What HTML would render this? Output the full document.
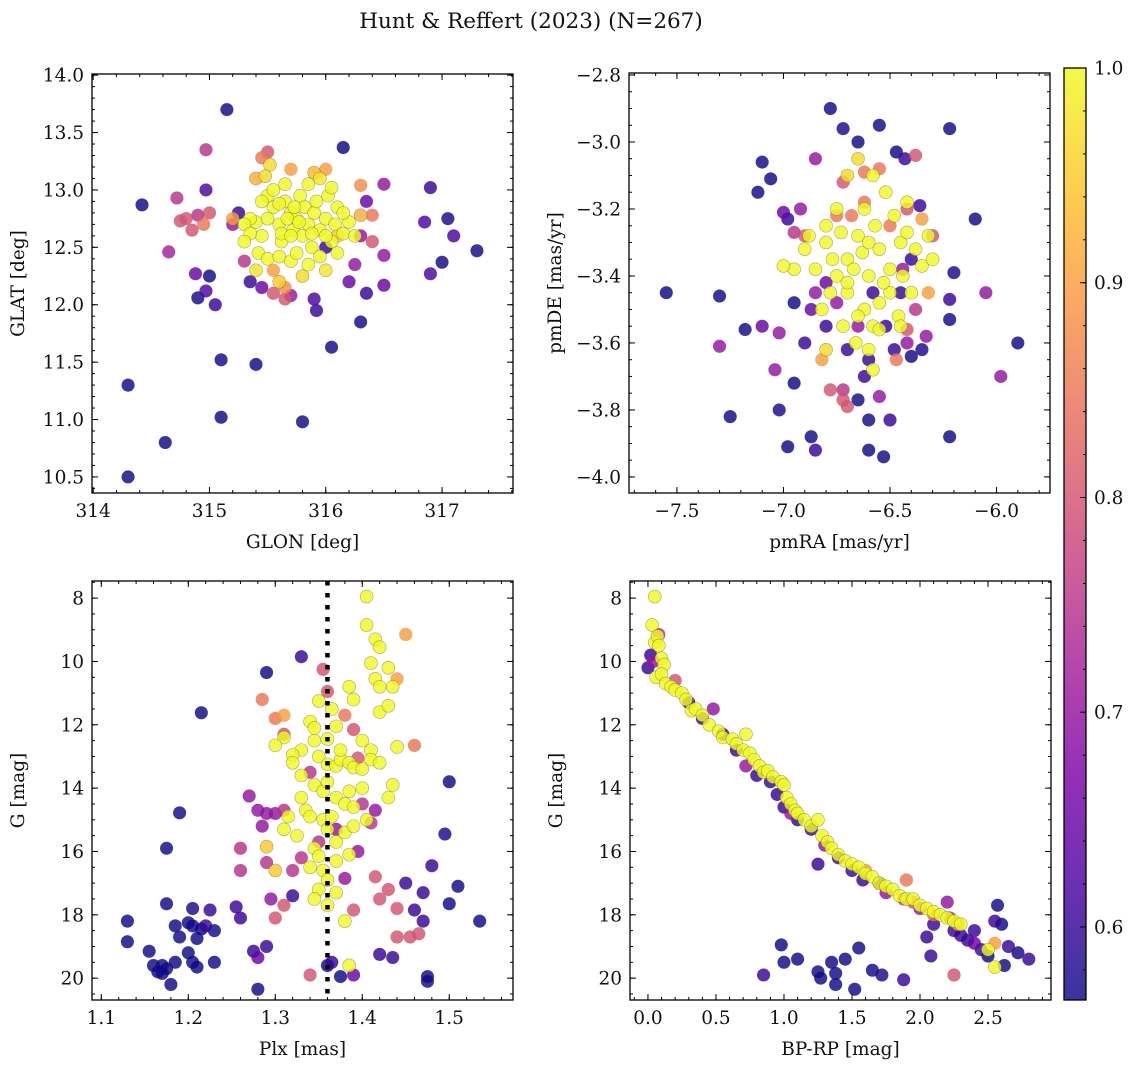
<!DOCTYPE html>
<html><head><meta charset="utf-8"><style>
body{margin:0;background:#fff}
svg text{font-family:"DejaVu Serif","Liberation Serif",serif;fill:#111}
</style></head><body>
<svg id="fig" width="1136" height="1067" xmlns="http://www.w3.org/2000/svg">
<defs><linearGradient id="plasma" x1="0" y1="1" x2="0" y2="0"></linearGradient></defs>
<text x="531" y="28" font-size="21.5" text-anchor="middle">Hunt &amp; Reffert (2023) (N=267)</text>
</svg>
<script>
// ---- data ----
const skyPoints = [
[314.3,10.5,0.55],[314.3,11.3,0.55],[314.62,10.8,0.55],[315.1,11.02,0.55],[315.8,10.98,0.55],[315.1,11.52,0.55],[315.4,11.48,0.55],[314.42,12.87,0.55],[315.15,13.7,0.55],[316.15,13.37,0.56],[316.05,11.63,0.57],[316.3,11.85,0.57],[316.9,13.02,0.6],[317.05,12.75,0.58],[317.3,12.47,0.56],[316.85,12.72,0.62],[317.1,12.6,0.62],[317.0,12.37,0.57],[316.9,12.27,0.62],[316.5,12.17,0.65],[316.5,12.43,0.7],[316.5,13.05,0.7],[316.35,12.1,0.6],[316.2,12.2,0.65],[314.88,12.27,0.65],[315.0,12.25,0.55],[314.9,12.06,0.57],[315.05,12.0,0.6],[314.97,12.12,0.62],[314.65,12.46,0.72],[314.72,12.93,0.75],[314.97,13.0,0.62],[315.9,12.05,0.62],[315.7,12.08,0.7],[315.92,11.95,0.6],[316.35,12.9,0.65],[316.3,12.6,0.7],[315.25,12.8,0.6],[315.35,12.2,0.6],[315.45,12.15,0.65],
[314.97,13.35,0.75],[314.75,12.73,0.8],[314.8,12.75,0.8],[314.9,12.78,0.75],[315.0,12.8,0.8],[315.5,13.33,0.8],[315.45,13.28,0.85],[316.0,13.18,0.9],[315.7,13.18,0.9],[316.4,12.78,0.85],[316.3,13.04,0.88],[316.4,12.55,0.8],[315.3,12.38,0.75],[315.55,12.1,0.8],[315.65,12.05,0.8],[316.0,12.5,0.6],[314.85,12.65,0.8],[314.95,12.7,0.85],[316.25,12.35,0.7],[315.2,12.7,0.7],
[315.4,12.72,1],[315.45,12.6,1],[315.5,12.75,1],[315.55,12.85,1],[315.6,12.7,1],[315.62,12.55,1],[315.65,12.9,1],[315.7,12.8,1],[315.72,12.65,1],[315.75,12.75,1],[315.78,12.95,1],[315.8,12.6,1],[315.82,12.85,1],[315.85,12.7,1],[315.88,12.5,1],[315.9,12.8,1],[315.92,12.9,1],[315.95,12.65,1],[316.0,12.75,1],[316.02,12.95,1],[316.05,12.55,1],[316.08,12.7,1],[316.1,12.85,1],[315.5,12.95,1],[315.55,13.0,1],[315.65,13.05,1],[315.85,13.05,1],[315.95,13.1,0.98],[316.05,13.02,1],[315.52,13.22,0.97],[315.48,13.12,0.97],[315.35,12.75,1],[315.3,12.7,1],[315.35,12.62,1],[315.42,12.45,1],[315.5,12.4,1],[315.6,12.42,1],[315.7,12.38,1],[315.75,12.45,1],[315.85,12.35,1],[315.95,12.42,1],[316.0,12.3,0.98],[316.1,12.45,1],[316.15,12.62,1],[316.2,12.72,1],[316.15,12.8,1],[315.4,12.3,0.98],[315.6,12.2,0.95],[315.8,12.25,0.97],[315.67,12.75,1],[315.77,12.72,1],[315.73,12.85,1],[315.62,12.62,1],[315.88,12.62,1],[315.6,12.88,1],[315.45,12.9,1],[316.25,12.6,1],[316.0,12.6,1],[315.3,12.55,1],[315.7,12.6,1],
[315.4,13.1,0.92],[316.3,12.78,0.92],[315.9,13.15,0.93],[315.2,12.75,0.9],[315.65,12.15,0.88],[315.55,12.3,0.9],[316.1,12.6,0.95]
];
const pmPoints = [
[-7.55,-3.45,0.55],[-7.3,-3.46,0.55],[-7.3,-3.61,0.7],[-7.25,-3.82,0.55],[-7.18,-3.56,0.57],[-7.1,-3.06,0.55],[-7.12,-3.15,0.55],[-7.06,-3.11,0.55],[-7.0,-3.21,0.65],[-6.98,-3.23,0.6],[-6.98,-3.91,0.55],[-6.87,-3.88,0.55],[-6.85,-3.92,0.6],[-6.95,-3.72,0.55],[-7.02,-3.8,0.58],[-6.78,-2.9,0.55],[-6.72,-2.96,0.58],[-6.65,-3.0,0.55],[-6.55,-2.95,0.55],[-6.47,-3.03,0.55],[-6.43,-3.05,0.6],[-6.38,-3.04,0.8],[-6.22,-2.96,0.57],[-6.1,-3.23,0.56],[-6.2,-3.39,0.58],[-6.22,-3.47,0.6],[-6.05,-3.45,0.7],[-5.98,-3.7,0.7],[-5.9,-3.6,0.56],[-6.22,-3.53,0.57],[-6.22,-3.88,0.56],[-6.6,-3.92,0.56],[-6.53,-3.94,0.56],[-6.6,-3.83,0.56],[-6.5,-3.83,0.6],[-6.55,-3.76,0.7],[-6.65,-3.77,0.57],[-6.78,-3.74,0.8],[-6.72,-3.74,0.75],[-6.7,-3.79,0.8],[-6.72,-3.77,0.8],[-7.04,-3.68,0.7],[-7.02,-3.57,0.7],[-7.1,-3.55,0.65],[-6.82,-3.65,0.9],[-6.95,-3.48,0.55],[-6.4,-3.64,0.56],[-6.35,-3.62,0.58],[-6.33,-3.58,0.7],[-6.42,-3.56,0.8],[-6.47,-3.65,0.85],
[-6.9,-3.28,0.8],[-6.95,-3.27,0.75],[-6.85,-3.45,0.7],[-6.75,-3.22,0.85],[-6.62,-3.18,0.85],[-6.55,-3.08,0.85],[-6.62,-3.09,0.85],[-6.72,-3.12,0.8],[-6.68,-3.22,0.85],[-6.5,-3.25,0.85],[-6.42,-3.2,0.8],[-6.35,-3.23,0.9],[-6.32,-3.45,0.9],[-6.3,-3.28,0.8],[-6.38,-3.5,0.75],[-6.44,-3.38,0.7],[-6.65,-3.55,0.7],[-6.75,-3.48,0.7],[-6.8,-3.42,0.65],[-6.87,-3.5,0.65],[-6.92,-3.2,0.7],[-6.85,-3.05,0.7],[-6.58,-3.45,0.6],[-6.52,-3.55,0.6],[-6.48,-3.62,0.6],[-6.6,-3.65,0.6],[-6.45,-3.45,0.6],[-6.42,-3.6,0.7],[-6.4,-3.35,0.6],[-6.36,-3.19,0.6],[-6.7,-3.62,0.6],[-6.62,-3.7,0.6],[-6.9,-3.6,0.6],[-6.8,-3.55,0.6],
[-6.8,-3.3,1],[-6.75,-3.2,1],[-6.7,-3.35,1],[-6.65,-3.28,1],[-6.6,-3.4,1],[-6.55,-3.32,1],[-6.5,-3.38,1],[-6.45,-3.3,1],[-6.4,-3.45,1],[-6.35,-3.37,1],[-6.62,-3.5,1],[-6.58,-3.55,1],[-6.66,-3.6,1],[-6.7,-3.45,1],[-6.75,-3.4,1],[-6.85,-3.38,1],[-6.9,-3.32,1],[-6.95,-3.38,1],[-6.82,-3.5,1],[-6.72,-3.55,1],[-6.6,-3.62,1],[-6.55,-3.48,1],[-6.48,-3.22,1],[-6.42,-3.18,1],[-6.52,-3.15,1],[-6.62,-3.2,1],[-6.58,-3.1,1],[-6.65,-3.05,0.97],[-6.7,-3.1,0.97],[-6.8,-3.25,1],[-6.88,-3.28,1],[-6.5,-3.45,1],[-6.46,-3.52,1],[-6.38,-3.32,1],[-6.32,-3.28,1],[-6.3,-3.35,1],[-6.67,-3.38,1],[-6.63,-3.33,1],[-6.57,-3.25,1],[-6.53,-3.42,1],[-6.44,-3.4,1],[-6.73,-3.27,1],[-6.77,-3.35,1],[-6.6,-3.3,1],[-6.55,-3.56,1],[-6.65,-3.52,1],[-6.7,-3.42,1],[-6.78,-3.45,1],[-6.42,-3.27,1],[-7.0,-3.37,1],[-6.8,-3.62,0.97],[-6.45,-3.55,1],[-6.58,-3.68,1]
];
const plxPoints = [
[1.13,18.2,0.55],[1.13,18.85,0.55],[1.155,19.15,0.55],[1.16,19.6,0.55],[1.165,19.8,0.55],[1.17,19.6,0.55],[1.17,19.85,0.55],[1.175,19.7,0.55],[1.18,20.2,0.55],[1.185,19.5,0.55],[1.175,17.65,0.55],[1.185,18.35,0.56],[1.19,18.7,0.57],[1.2,18.25,0.55],[1.205,18.35,0.55],[1.205,17.8,0.58],[1.21,18.75,0.55],[1.215,18.45,0.55],[1.22,18.35,0.6],[1.225,17.85,0.6],[1.23,18.5,0.55],[1.23,19.5,0.55],[1.2,19.2,0.55],[1.205,19.5,0.55],[1.21,19.65,0.55],[1.175,15.9,0.55],[1.19,14.78,0.55],[1.215,11.62,0.55],[1.255,17.75,0.6],[1.26,18.1,0.6],[1.275,19.15,0.6],[1.28,19.35,0.65],[1.28,20.35,0.55],[1.29,19.0,0.6],[1.29,10.35,0.55],[1.32,17.4,0.6],[1.33,9.85,0.6],[1.36,19.6,0.55],[1.365,19.5,0.6],[1.375,19.95,0.55],[1.42,19.25,0.6],[1.46,17.85,0.6],[1.47,18.2,0.6],[1.475,19.95,0.55],[1.475,20.1,0.55],[1.5,17.65,0.55],[1.51,17.1,0.55],[1.535,18.2,0.55],[1.5,13.8,0.55],[1.495,15.45,0.58],[1.48,16.45,0.6],[1.47,17.3,0.6],[1.45,17.0,0.6],[1.435,19.35,0.6],[1.39,19.9,0.65],[1.34,19.9,0.8],
[1.27,14.25,0.7],[1.28,14.7,0.7],[1.285,15.2,0.7],[1.29,14.8,0.7],[1.3,14.8,0.7],[1.31,14.7,0.75],[1.26,15.9,0.75],[1.26,16.6,0.75],[1.29,16.35,0.75],[1.295,17.5,0.7],[1.3,18.1,0.8],[1.31,17.7,0.8],[1.32,16.6,0.75],[1.33,16.2,0.75],[1.285,11.2,0.85],[1.3,11.8,0.85],[1.31,12.3,0.8],[1.31,11.7,0.9],[1.355,10.25,0.8],[1.36,10.95,0.8],[1.38,11.7,0.85],[1.39,12.15,0.8],[1.395,13.05,0.8],[1.4,14.5,0.75],[1.41,15.1,0.75],[1.415,16.8,0.8],[1.42,17.5,0.8],[1.43,17.2,0.8],[1.44,17.8,0.8],[1.44,18.7,0.8],[1.455,18.7,0.8],[1.465,18.6,0.8],[1.45,9.15,0.9],[1.46,12.65,0.85],[1.44,10.55,0.9],[1.34,13.5,0.75],[1.35,15.7,0.75],[1.37,15.3,0.7],[1.38,16.85,0.7],[1.39,17.85,0.8],[1.395,16.0,0.7],[1.415,14.7,0.7],
[1.405,7.95,1],[1.405,8.85,1],[1.415,9.3,1],[1.42,9.55,1],[1.41,10.05,1],[1.415,10.55,1],[1.42,10.8,1],[1.43,10.2,1],[1.435,10.8,1],[1.385,10.8,1],[1.39,11.2,1],[1.35,11.25,1],[1.34,11.9,1],[1.345,12.5,1],[1.36,12.45,1],[1.37,12.05,1],[1.4,12.5,1],[1.41,12.8,1],[1.42,11.6,1],[1.43,11.4,1],[1.33,12.8,1],[1.32,12.95,1],[1.35,13.0,1],[1.36,13.25,1],[1.37,13.3,1],[1.375,13.1,1],[1.385,13.2,1],[1.39,13.35,1],[1.4,13.4,1],[1.41,13.1,1],[1.42,13.2,1],[1.33,13.6,1],[1.345,13.9,1],[1.355,14.1,1],[1.36,13.8,1],[1.37,14.3,1],[1.38,14.5,1],[1.385,14.1,1],[1.39,14.6,1],[1.4,14.0,1],[1.405,15.0,1],[1.43,14.3,1],[1.435,13.9,1],[1.33,14.3,1],[1.335,14.7,1],[1.34,14.9,1],[1.31,15.3,1],[1.325,15.5,1],[1.345,15.9,1],[1.355,15.0,1],[1.36,15.3,1],[1.365,14.9,1],[1.37,15.7,1],[1.38,15.4,1],[1.39,15.2,1],[1.35,16.15,1],[1.34,16.5,1],[1.355,16.6,1],[1.37,16.3,1],[1.385,16.1,1],[1.36,16.9,1],[1.35,17.2,1],[1.345,17.5,1],[1.36,17.7,1],[1.37,17.3,1],[1.38,18.2,1],[1.385,19.6,1],[1.3,16.6,0.95],[1.29,15.85,0.95],[1.315,14.9,1],[1.32,13.2,1],[1.345,12.1,1],[1.31,12.4,1],[1.365,11.5,1],[1.375,12.8,1],[1.3,12.65,1],[1.44,12.7,1]
];
const cmdPoints = [
[0.85,19.9,0.6],[0.98,18.95,0.55],[1.0,19.5,0.55],[1.1,19.4,0.55],[1.25,19.8,0.55],[1.27,20.0,0.55],[1.35,19.5,0.55],[1.38,19.85,0.55],[1.38,20.2,0.55],[1.45,19.4,0.55],[1.52,20.35,0.55],[1.55,19.05,0.55],[1.65,19.75,0.55],[1.72,19.9,0.58],[1.88,20.05,0.6],[2.25,19.9,0.8],
[0.0,10.2,0.6],[0.02,9.8,0.6],[0.04,10.0,0.7],[0.08,9.15,0.75],[0.2,10.6,0.8],[0.3,11.3,0.6],[0.4,11.8,0.6],[0.48,11.5,0.7],[0.55,12.3,0.6],[0.65,12.8,0.6],[0.72,13.3,0.7],[0.8,13.6,0.6],[0.9,13.8,0.6],[0.95,14.2,0.6],[1.0,14.6,0.6],[1.05,14.8,0.7],[1.1,15.0,0.6],[1.2,15.3,0.6],[1.25,16.4,0.6],[1.3,15.8,0.7],[1.4,16.2,0.6],[1.5,16.6,0.6],[1.58,16.9,0.6],[1.7,17.0,0.6],[1.75,17.3,0.7],[1.88,17.5,0.75],[1.9,16.9,0.85],[2.0,17.8,0.7],[2.05,18.7,0.6],[2.08,19.3,0.6],[2.1,18.3,0.6],[2.2,17.6,0.7],[2.22,18.1,0.75],[2.25,18.5,0.6],[2.3,18.65,0.6],[2.35,18.8,0.6],[2.4,18.5,0.6],[2.45,19.1,0.6],[2.5,19.3,0.55],[2.55,18.2,0.6],[2.57,17.7,0.55],[2.6,18.3,0.55],[2.62,19.6,0.55],[2.65,19.0,0.6],[2.72,19.2,0.55],[2.8,19.4,0.6],[2.4,18.9,0.65],[2.28,18.3,0.9],[2.1,18.0,0.85],[1.95,17.6,0.8],[1.6,16.6,0.9],[2.55,18.9,0.9],
[0.03,8.85,1],[0.05,7.95,1],[0.05,9.4,1],[0.07,9.2,1],[0.08,9.5,1],[0.1,9.9,1],[0.12,10.1,1],[0.06,10.5,1],[0.1,10.4,1],[0.13,10.7,1],[0.17,10.8,1],[0.2,10.9,1],[0.25,11.0,1],[0.28,11.2,1],[0.32,11.55,1],[0.35,11.5,1],[0.4,11.7,1],[0.45,12.0,1],[0.52,12.2,1],[0.55,12.4,1],[0.62,12.45,1],[0.65,12.6,1],[0.7,12.8,1],[0.72,12.3,1],[0.75,12.9,1],[0.78,13.1,1],[0.82,13.3,1],[0.85,13.5,1],[0.88,13.45,1],[0.92,13.65,1],[0.98,13.8,1],[1.0,13.9,1],[1.02,14.3,1],[1.05,14.5,1],[1.08,14.7,1],[1.1,14.8,1],[1.15,15.0,1],[1.2,15.2,1],[1.25,15.0,1],[1.28,15.5,1],[1.32,15.7,1],[1.35,15.9,1],[1.4,16.1,1],[1.45,16.3,1],[1.5,16.4,1],[1.55,16.5,1],[1.6,16.7,1],[1.65,16.8,1],[1.7,17.0,1],[1.75,17.1,1],[1.8,17.2,1],[1.85,17.4,1],[1.9,17.5,1],[1.95,17.5,1],[2.0,17.7,1],[2.05,17.8,1],[2.1,17.9,1],[2.15,18.0,1],[2.2,18.1,1],[2.25,18.2,1],[2.3,18.3,1],[2.55,19.65,1],[2.5,19.1,1]
];
const plxLine = [1.36];
const cbarTicks = [0.6,0.7,0.8,0.9,1.0];

// ---- helpers ----
const NS='http://www.w3.org/2000/svg';
const svg=document.getElementById('fig');
function mk(tag,attrs,parent){const e=document.createElementNS(NS,tag);for(const k in attrs)e.setAttribute(k,attrs[k]);(parent||svg).appendChild(e);return e;}
const stops=[[0,'#0d0887'],[0.125,'#4c02a1'],[0.25,'#7e03a8'],[0.375,'#a92395'],[0.5,'#cc4778'],[0.625,'#e66c5c'],[0.75,'#f89540'],[0.875,'#fdc527'],[1,'#f0f921']];
const VMIN=0.566,VMAX=1.0;
function hex(h){return [parseInt(h.slice(1,3),16),parseInt(h.slice(3,5),16),parseInt(h.slice(5,7),16)];}
function cmap(t){t=Math.max(0,Math.min(1,t));for(let i=1;i<stops.length;i++){if(t<=stops[i][0]){const a=stops[i-1],b=stops[i];const f=(t-a[0])/(b[0]-a[0]);const ca=hex(a[1]),cb=hex(b[1]);return 'rgb('+ca.map((v,j)=>Math.round(v+(cb[j]-v)*f)).join(',')+')';}}return stops[stops.length-1][1];}
function colorOf(p){return cmap((p-VMIN)/(VMAX-VMIN));}
const FS=18.5;

function panel(o){
  const g=mk('g',{});
  
  
  const sx=v=>o.L+(v-o.x0)/(o.x1-o.x0)*(o.R-o.L);
  const sy=v=>o.B-(v-o.y0)/(o.y1-o.y0)*(o.B-o.T);
  const clip='c'+o.name;
  const cp=mk('clipPath',{id:clip},g);mk('rect',{x:o.L,y:o.T,width:o.R-o.L,height:o.B-o.T},cp);
  const pg=mk('g',{'clip-path':'url(#'+clip+')'},g);
  const pts=o.data.slice().sort((a,b)=>a[2]-b[2]);
  pts.forEach(d=>{const c=mk('circle',{cx:sx(d[0]),cy:sy(d[1]),r:6.5,fill:colorOf(d[2]),'fill-opacity':0.82,stroke:'#555','stroke-opacity':d[2]>0.9?0.5:0.15,'stroke-width':0.6},pg);
    
    });
  if(o.vline){o.vline.forEach(v=>{const l=mk('line',{x1:sx(v),x2:sx(v),y1:o.T,y2:o.B,stroke:'#000','stroke-width':4.5,'stroke-dasharray':'4.5,7.5'},pg);
    
    });}
  mk('rect',{x:o.L,y:o.T,width:o.R-o.L,height:o.B-o.T,fill:'none',stroke:'#000','stroke-width':1.3},g);
  function ticksX(step,len,lab){const s=Math.ceil(o.x0/step-1e-6);for(let i=s;i*step<=o.x1+1e-9;i++){const v=+(i*step).toFixed(6);const x=sx(v);
    mk('line',{x1:x,x2:x,y1:o.B,y2:o.B-len,stroke:'#000','stroke-width':1},g);mk('line',{x1:x,x2:x,y1:o.T,y2:o.T+len,stroke:'#000','stroke-width':1},g);
    if(lab){const t=mk('text',{x:x,y:o.B+24,'font-size':FS,'text-anchor':'middle'},g);t.textContent=lab(v);}}}
  function ticksY(step,len,lab){const lo=Math.min(o.y0,o.y1),hi=Math.max(o.y0,o.y1);const s=Math.ceil(lo/step-1e-6);for(let i=s;i*step<=hi+1e-9;i++){const v=+(i*step).toFixed(6);const y=sy(v);
    mk('line',{x1:o.L,x2:o.L+len,y1:y,y2:y,stroke:'#000','stroke-width':1},g);mk('line',{x1:o.R,x2:o.R-len,y1:y,y2:y,stroke:'#000','stroke-width':1},g);
    if(lab){const t=mk('text',{x:o.L-8,y:y+6.5,'font-size':FS,'text-anchor':'end'},g);t.textContent=lab(v);}}}
  const fmt=(d)=>v=>(v<0?'\u2212':'')+Math.abs(v).toFixed(d);
  ticksX(o.xm,3,null);ticksX(o.xM,6,fmt(o.xd));ticksY(o.ym,3,null);ticksY(o.yM,6,fmt(o.yd));
  const xl=mk('text',{x:(o.L+o.R)/2,y:o.B+55,'font-size':FS,'text-anchor':'middle'},g);xl.textContent=o.xlab;
  
  const yx=o.L-68,yy=(o.T+o.B)/2;
  const yl=mk('text',{x:yx,y:yy,'font-size':FS,'text-anchor':'middle',transform:'rotate(-90 '+yx+' '+yy+')'},g);yl.textContent=o.ylab;
  
}
panel({name:'sky-position-panel',data:skyPoints,L:92,R:513,T:74,B:493,x0:313.99,x1:317.61,y0:10.36,y1:14.01,xM:1,xm:0.2,yM:0.5,ym:0.1,xd:0,yd:1,xlab:'GLON [deg]',ylab:'GLAT [deg]'});
panel({name:'proper-motion-panel',data:pmPoints,L:629,R:1050,T:73,B:493,x0:-7.725,x1:-5.749,y0:-4.048,y1:-2.794,xM:0.5,xm:0.1,yM:0.2,ym:0.05,xd:1,yd:1,xlab:'pmRA [mas/yr]',ylab:'pmDE [mas/yr]'});
panel({name:'parallax-magnitude-panel',data:plxPoints,vline:plxLine,L:92,R:513,T:581,B:1000,x0:1.0893,x1:1.5733,y0:20.69,y1:7.46,xM:0.1,xm:0.02,yM:2,ym:0.5,xd:1,yd:0,xlab:'Plx [mas]',ylab:'G [mag]'});
panel({name:'color-magnitude-panel',data:cmdPoints,L:630,R:1051,T:581,B:1000,x0:-0.132,x1:2.963,y0:20.69,y1:7.46,xM:0.5,xm:0.1,yM:2,ym:0.5,xd:1,yd:0,xlab:'BP-RP [mag]',ylab:'G [mag]'});

// colorbar
const grad=document.getElementById('plasma');
stops.forEach(s=>mk('stop',{offset:s[0],'stop-color':s[1]},grad));
const cb=mk('g',{});


const CT=68,CB=1000,CL=1064,CR=1086;
mk('rect',{x:CL,y:CT,width:CR-CL,height:CB-CT,fill:'url(#plasma)','fill-opacity':0.82},cb);
mk('rect',{x:CL,y:CT,width:CR-CL,height:CB-CT,fill:'none',stroke:'#000','stroke-width':1.3},cb);
const cy=v=>CB-(v-VMIN)/(VMAX-VMIN)*(CB-CT);
for(let v=0.58;v<=1.0001;v+=0.02){mk('line',{x1:CR,x2:CR-3,y1:cy(v),y2:cy(v),stroke:'#000','stroke-width':1},cb);}
cbarTicks.forEach(v=>{mk('line',{x1:CR,x2:CR-6,y1:cy(v),y2:cy(v),stroke:'#000','stroke-width':1},cb);
  const t=mk('text',{x:CR+8,y:cy(v)+6.5,'font-size':FS},cb);t.textContent=v.toFixed(1);
  
  });
</script>
</body></html>
